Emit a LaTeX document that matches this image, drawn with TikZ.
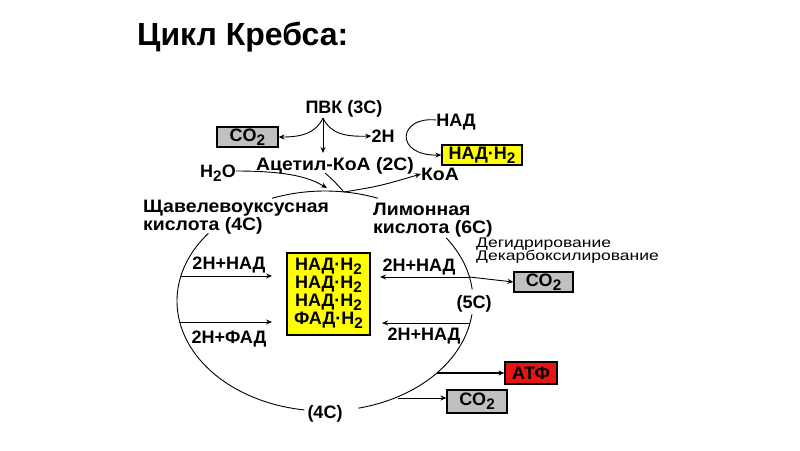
\documentclass[tikz,border=0pt]{standalone}
\usepackage{fontspec}
\usepackage{graphicx}
\setmainfont{Liberation Sans}
\usetikzlibrary{arrows.meta}
\newcommand\lowsub[1]{\raisebox{-0.45ex}{\scalebox{0.85}{#1}}}
\newcommand\wide[1]{\scalebox{1.08}[1]{#1}}
\definecolor{boxgray}{RGB}{192,192,192}
\definecolor{boxyellow}{RGB}{255,255,0}
\definecolor{boxred}{RGB}{232,20,20}
\tikzset{
  lbl/.style={font=\bfseries\fontsize{18}{20}\selectfont, inner sep=0pt, text height=12.5pt, text depth=0pt},
  thinlbl/.style={font=\fontsize{14}{16}\selectfont, inner sep=0pt, text height=10pt, text depth=0pt},
  cbox/.style={draw=black, line width=1.2pt, inner sep=0pt, font=\bfseries\fontsize{18}{20}\selectfont},
  arr/.style={-{Stealth[length=6pt,width=5pt]}, line width=0.9pt},
  cyc/.style={line width=0.9pt},
}
\begin{document}
\begin{tikzpicture}[x=1pt,y=-1pt]
\useasboundingbox (0,0) rectangle (800,450);
% title
\node[anchor=base west, inner sep=0pt, font=\bfseries\fontsize{32}{36}\selectfont] (title) at (137,45) {Цикл Кребса:};
% top part
\node[lbl] (pvk) at (344,107) {ПВК (3С)};
\coordinate (br) at (323,118);
\node[cbox, fill=boxgray, minimum width=61pt, minimum height=20pt] (co2a) at (247.5,137) {CO\lowsub{2}};
\node[lbl] (h2) at (383,136) {2Н};
\node[lbl] (nad) at (456,120) {НАД};
\node[cbox, fill=boxyellow, minimum width=80pt, minimum height=20pt] (nadh) at (482,155) {НАД·Н\lowsub{2}};
\node[lbl] (acet) at (335,164) {\wide{Ацетил-КоА (2С)}};
\node[lbl] (h2o) at (218,171) {Н\lowsub{2}О};
\node[lbl] (koa) at (440,174) {\wide{КоА}};
\draw[arr] (br) .. controls (316,133) and (302,137) .. (co2a.east);
\draw[arr] (br) .. controls (330,133) and (344,137) .. (h2.west);
\draw[arr] (br) -- (323,153) coordinate (acettop);
\draw[arr] (nad.west) .. controls (398,116) and (394,156) .. (nadh.west);
% cycle
\def\cx{325}\def\cy{301}\def\rx{148}\def\ry{110}
\draw[cyc] plot[domain=249:291, samples=40, smooth] ({\cx+\rx*cos(\x)},{\cy+\ry*sin(\x)});
\draw[cyc] plot[domain=325:354, samples=30, smooth] ({\cx+\rx*cos(\x)},{\cy+\ry*sin(\x)});
\draw[cyc] plot[domain=7:77, samples=50, smooth] ({\cx+\rx*cos(\x)},{\cy+\ry*sin(\x)});
\draw[cyc] plot[domain=98:218, samples=80, smooth] ({\cx+\rx*cos(\x)},{\cy+\ry*sin(\x)});
% entry / exit at top
\coordinate (join) at (344,192);
\draw[arr] (h2o.east) .. controls (290,171) and (310,178) .. (327,188) coordinate (h2otip);
\draw[cyc] (325,173) .. controls (333,180) .. (join);
\draw[arr] (join) .. controls (380,186) .. (koa.west);
% acid labels
\node[lbl, anchor=west] (sch1) at (143,206) {\wide{Щавелевоуксусная}};
\node[lbl, anchor=west] (sch2) at (143,224) {\wide{кислота (4С)}};
\node[lbl, anchor=west] (lim1) at (373,209) {\wide{Лимонная}};
\node[lbl, anchor=west] (lim2) at (373,227) {\wide{кислота (6С)}};
\node[thinlbl, anchor=west] (deg) at (476,242) {\scalebox{1.25}[1]{Дегидрирование}};
\node[thinlbl, anchor=west] (dek) at (476,255.5) {\scalebox{1.25}[1]{Декарбоксилирование}};
% central box
\node[draw=black, line width=1.2pt, fill=boxyellow, minimum width=83pt, minimum height=82pt, inner sep=0pt] (big) at (328.5,294) {};
\node[lbl] (b1) at (328.5,264) {НАД·Н\lowsub{2}};
\node[lbl] (b2) at (328.5,282) {НАД·Н\lowsub{2}};
\node[lbl] (b3) at (328.5,300) {НАД·Н\lowsub{2}};
\node[lbl] (b4) at (328.5,318) {ФАД·Н\lowsub{2}};
% left side arrows
\coordinate (l1) at ({\cx+\rx*cos(193.1)},276);
\coordinate (l2) at ({\cx+\rx*cos(169)},322);
\node[lbl] (ln1) at (229,263) {2Н+НАД};
\node[lbl] (lf1) at (229,337) {2Н+ФАД};
\draw[arr] (l1) -- (272,276) coordinate (l1e);
\draw[arr] (l2) -- (272,322) coordinate (l2e);
% right side
\coordinate (r1) at (469.4,277);
\coordinate (r2) at (470,323);
\node[lbl] (rn1) at (419,265) {2Н+НАД};
\node[lbl] (rn2) at (424,334) {2Н+НАД};
\node[cbox, fill=boxgray, minimum width=59pt, minimum height=20pt] (co2b) at (543.5,282) {CO\lowsub{2}};
\node[lbl] (c5) at (474,302) {(5С)};
\draw[arr] (r1) -- (380,277) coordinate (r1e);
\draw[arr] (r1) -- (co2b.west);
\draw[arr] (r2) -- (382,323) coordinate (r2e);
\node[cbox, fill=boxred, minimum width=52pt, minimum height=22pt] (atf) at (531,373) {АТФ};
\node[cbox, fill=boxgray, minimum width=60pt, minimum height=23pt] (co2c) at (477,401.5) {CO\lowsub{2}};
\coordinate (ra) at (437,373);
\coordinate (rc) at (398,398);
\draw[-{Stealth[length=6pt,width=5pt]}, line width=2pt] (ra) -- (atf.west);
\draw[arr] (rc) -- (co2c.west |- rc);
\node[lbl] (c4) at (325,412) {(4С)};
\end{tikzpicture}
\end{document}
